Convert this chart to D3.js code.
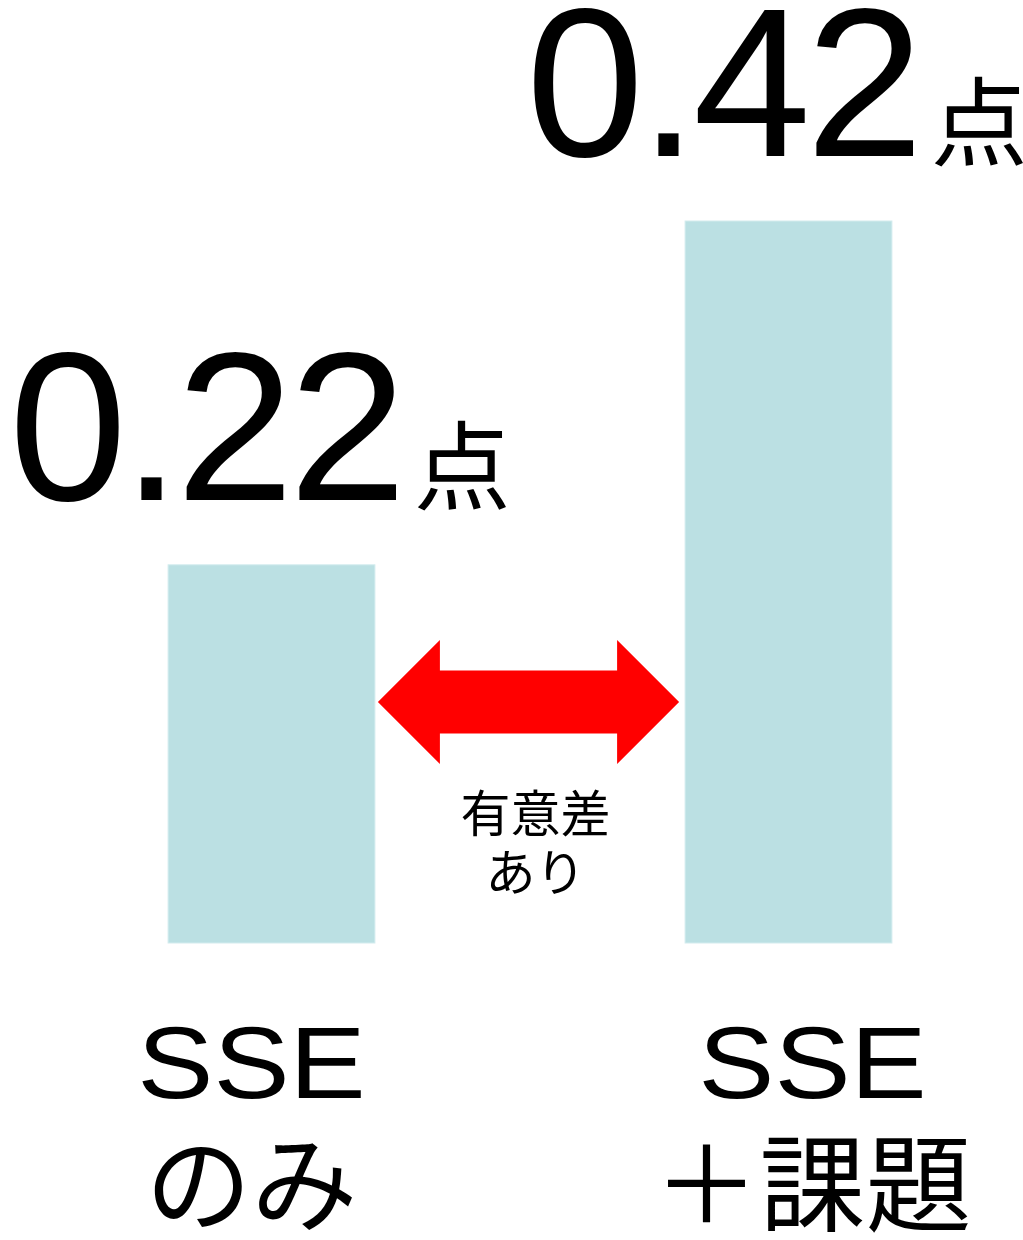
<!DOCTYPE html>
<html>
<head>
<meta charset="utf-8">
<script src="https://cdn.jsdelivr.net/npm/d3@7"></script>
<style>
  html, body { margin: 0; padding: 0; background: #ffffff; }
  svg { display: block; }
</style>
</head>
<body>
<svg id="chart" width="1023" height="1240"></svg>
<script>
// Mean score gain per condition
const categories = ["SSE\nのみ", "SSE\n＋課題"];
const values = [0.22, 0.42];
const valueLabels = ["0.22", "0.42"];
const unitLabel = "点";
const noteLines = ["有意差", "あり"];

const svg = d3.select("#chart");
const latin = "'Liberation Sans', Arial, Helvetica, sans-serif";
const cjk = "'Noto Sans CJK JP', 'Noto Sans', sans-serif";

const x = d3.scaleBand()
  .domain(categories)
  .range([13, 1047])
  .paddingInner(0.6)
  .paddingOuter(0.3);

const y = d3.scaleLinear()
  .domain([0, 0.42])
  .range([943, 221]);

const data = categories.map((c, i) => ({ cat: c, value: values[i], label: valueLabels[i] }));

// Bars
svg.append("g").selectAll("rect")
  .data(data)
  .join("rect")
  .attr("x", d => x(d.cat))
  .attr("y", d => y(d.value))
  .attr("width", x.bandwidth())
  .attr("height", d => y(0) - y(d.value))
  .attr("fill", "#bbe0e3")
  .attr("stroke", "#d3ecee")
  .attr("stroke-width", 1);

// Value labels above bars: large number plus small unit
const vl = svg.append("g").selectAll("text")
  .data(data)
  .join("text")
  .attr("x", d => x(d.cat) - 159)
  .attr("y", d => y(d.value) - 65)
  .attr("fill", "#000");
vl.append("tspan")
  .attr("font-family", latin)
  .attr("font-size", 212)
  .attr("letter-spacing", -5)
  .text(d => d.label);
vl.append("tspan")
  .attr("font-family", cjk)
  .attr("font-size", 97)
  .attr("dx", 12)
  .attr("dy", 2)
  .text(unitLabel);

// Double-headed arrow between the bars
const ax0 = x(categories[0]) + x.bandwidth() + 3;
const ax1 = x(categories[1]) - 6;
const ay = 702;
const head = 62, headH = 62, shaftH = 31.5;
const arrow = d3.path();
arrow.moveTo(ax0, ay);
arrow.lineTo(ax0 + head, ay - headH);
arrow.lineTo(ax0 + head, ay - shaftH);
arrow.lineTo(ax1 - head, ay - shaftH);
arrow.lineTo(ax1 - head, ay - headH);
arrow.lineTo(ax1, ay);
arrow.lineTo(ax1 - head, ay + headH);
arrow.lineTo(ax1 - head, ay + shaftH);
arrow.lineTo(ax0 + head, ay + shaftH);
arrow.lineTo(ax0 + head, ay + headH);
arrow.closePath();
svg.append("path").attr("d", arrow.toString()).attr("fill", "#ff0000");

// Significance note under the arrow
svg.append("g").selectAll("text")
  .data(noteLines)
  .join("text")
  .attr("x", (ax0 + ax1) / 2 + 7)
  .attr("y", (d, i) => 832 + i * 59)
  .attr("text-anchor", "middle")
  .attr("font-family", cjk)
  .attr("font-size", 50)
  .attr("fill", "#000")
  .text(d => d);

// Category labels below bars (first line set in a slightly widened face)
const labelShift = [-20, 24];
const cl = svg.append("g").selectAll("g")
  .data(categories)
  .join("g")
  .attr("transform", (d, i) => `translate(${x(d) + x.bandwidth() / 2 + labelShift[i]},0)`);
cl.each(function(d) {
  const lines = d.split("\n");
  const g = d3.select(this);
  g.append("g")
    .attr("transform", "translate(0,1098) scale(1.12,1)")
    .append("text")
    .attr("text-anchor", "middle")
    .attr("font-family", latin)
    .attr("font-size", 102)
    .attr("fill", "#000")
    .text(lines[0]);
  g.append("text")
    .attr("y", 1223)
    .attr("text-anchor", "middle")
    .attr("font-family", cjk)
    .attr("font-size", 106)
    .attr("fill", "#000")
    .text(lines[1]);
});
</script>
</body>
</html>
